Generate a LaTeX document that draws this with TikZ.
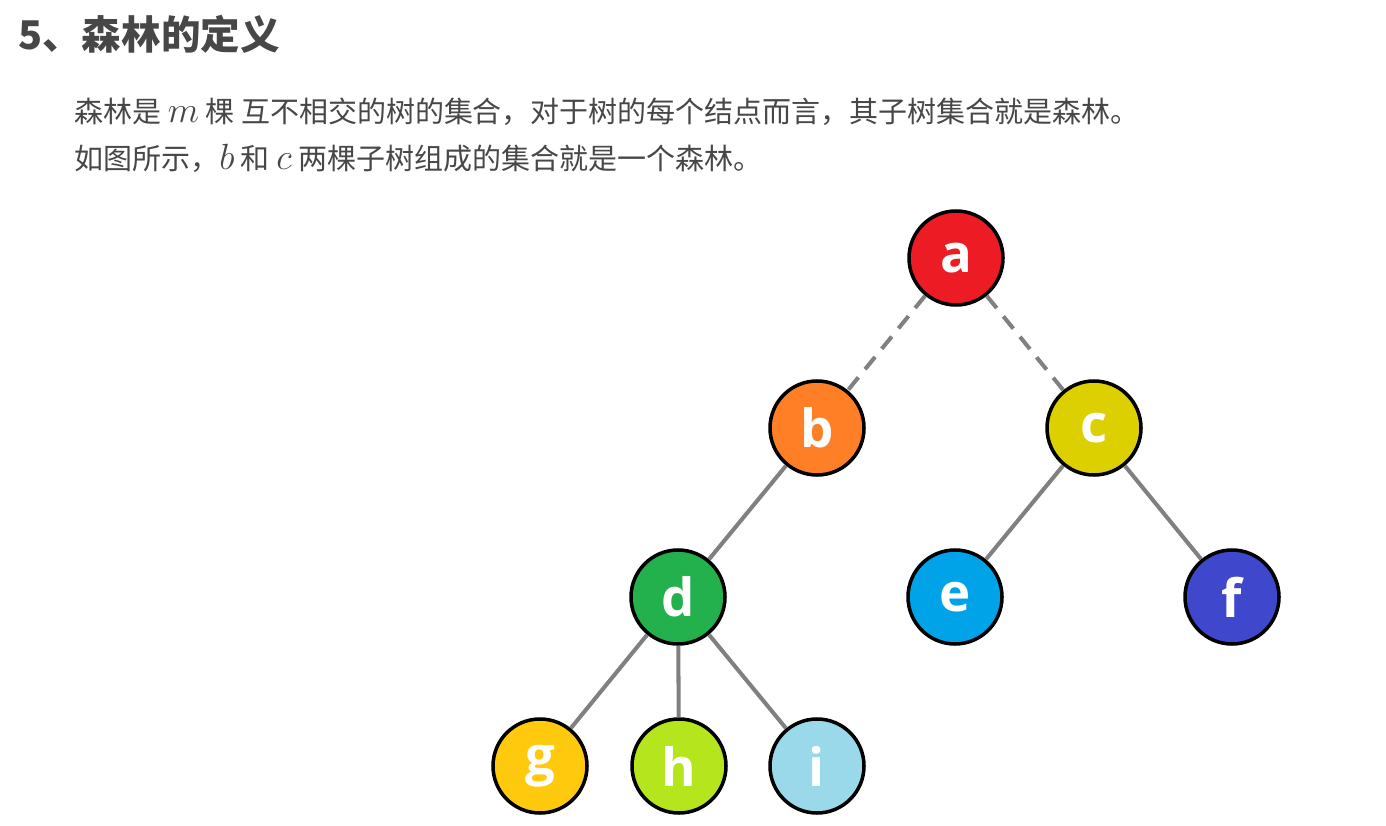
\documentclass[tikz,border=0pt]{standalone}
\usepackage{fontspec}
\usepackage{amsmath}
\newfontfamily\cjk{Noto Sans CJK SC}
\newfontfamily\lettersf{Open Sans}
\usetikzlibrary{positioning}

\definecolor{txtgray}{HTML}{474747}
\definecolor{edgegray}{HTML}{808080}
\definecolor{ca}{HTML}{ED1C24}
\definecolor{cb}{HTML}{FF7F27}
\definecolor{cc}{HTML}{DCD000}
\definecolor{cd}{HTML}{22B14C}
\definecolor{ce}{HTML}{00A2E8}
\definecolor{cf}{HTML}{3F48CC}
\definecolor{cg}{HTML}{FFC90E}
\definecolor{ch}{HTML}{B5E61D}
\definecolor{ci}{HTML}{99D9EA}
\newcommand{\mvar}[1]{{\fontsize{19.5}{20}\selectfont$#1$}}

\begin{document}
\begin{tikzpicture}[
    trnode/.style={circle,draw=black,line width=2pt,minimum size=1.88cm,inner sep=0pt,
        text=white,font=\lettersf\bfseries\fontsize{30}{30}\selectfont},
    tredge/.style={draw=edgegray,line width=2.3pt},
    trdash/.style={tredge,dash pattern=on 9pt off 6pt},
    trtext/.style={anchor=west,inner sep=0pt,text=txtgray,font=\cjk\fontsize{16.5}{19}\selectfont}
]
\useasboundingbox (0,0) rectangle (27.72,-16.52);
% heading and text
\node[anchor=west,inner sep=0pt,text=txtgray,font=\cjk\bfseries\fontsize{22.5}{26}\selectfont]
    (title) at (0.36,-0.68) {5、森林的定义};
\node[trtext] (line1) at (1.48,-2.24)
    {森林是 \mvar{m} 棵 互不相交的树的集合，对于树的每个结点而言，其子树集合就是森林。};
\node[trtext] (line2) at (1.48,-3.16)
    {如图所示，\mvar{b} 和 \mvar{c} 两棵子树组成的集合就是一个森林。};
% tree
\node[trnode,fill=ca] (a) at (19.12,-5.16) {a};
\node[trnode,fill=cb] (b) at (16.34,-8.56) {b};
\node[trnode,fill=cc] (c) at (21.88,-8.56) {c};
\node[trnode,fill=cd] (d) at (13.56,-11.94) {d};
\node[trnode,fill=ce] (e) at (19.10,-11.94) {e};
\node[trnode,fill=cf] (f) at (24.64,-11.94) {f};
\node[trnode,fill=cg] (g) at (10.80,-15.32) {g};
\node[trnode,fill=ch] (h) at (13.58,-15.32) {h};
\node[trnode,fill=ci] (i) at (16.34,-15.32) {i};
\draw[trdash] (a)--(b);
\draw[trdash] (a)--(c);
\draw[tredge] (b)--(d);
\draw[tredge] (c)--(e);
\draw[tredge] (c)--(f);
\draw[tredge] (d)--(g);
\draw[tredge] (d)--(h);
\draw[tredge] (d)--(i);
\end{tikzpicture}
\end{document}
